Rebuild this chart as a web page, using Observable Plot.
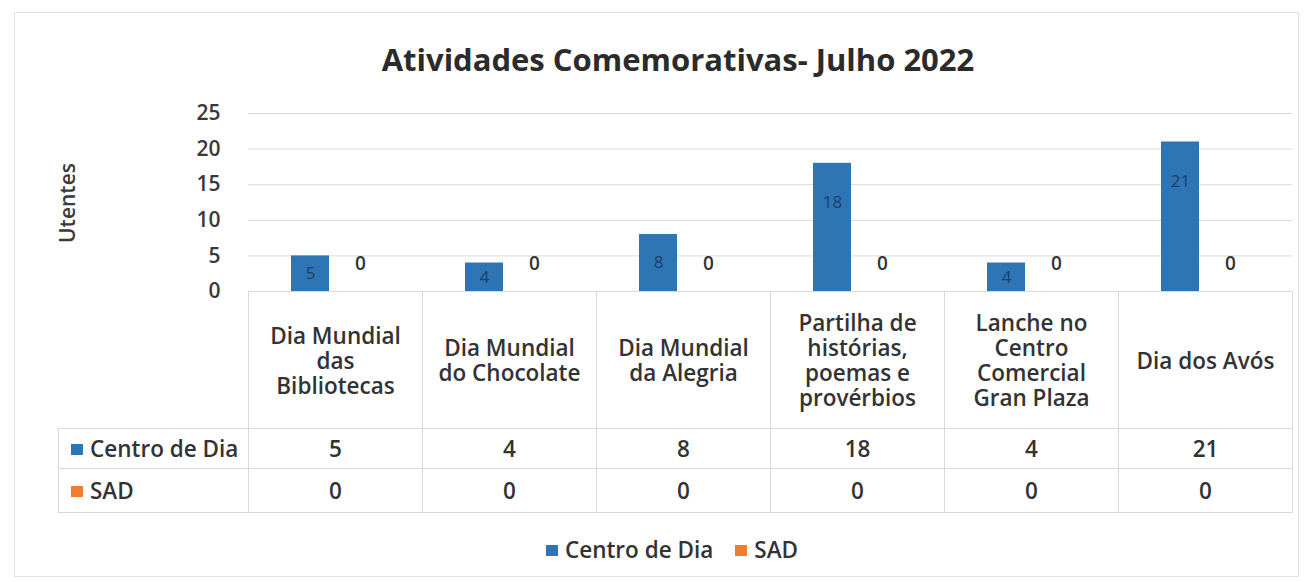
<!DOCTYPE html>
<html>
<head>
<meta charset="utf-8">
<script src="https://cdn.jsdelivr.net/npm/d3@7"></script>
<script src="https://cdn.jsdelivr.net/npm/@observablehq/plot@0.6"></script>
<style>
  html, body { margin: 0; padding: 0; background: #fff; }
  body { width: 1309px; height: 582px; position: relative; overflow: hidden; font-family: "Open Sans", Lato, sans-serif; color: #333; }
  #frame { position: absolute; left: 14px; top: 12px; width: 1285px; height: 565px; border: 1px solid #e3e3e3; box-sizing: border-box; }
  #title { position: absolute; left: 52px; width: 1252px; top: 38px; text-align: center; font-size: 31px; font-weight: 700; color: #2b2b2b; }
  #ylabel { position: absolute; left: 67px; top: 203px; transform: translate(-50%, -50%) rotate(-90deg); font-size: 21px; font-weight: 600; color: #3a3a3a; white-space: nowrap; }
  #chart { position: absolute; left: 0; top: 95px; }
  #table { position: absolute; left: 58px; top: 291px; border-collapse: collapse; table-layout: fixed; font-size: 22.5px; font-weight: 600; color: #333; }
  #table td { border: 1px solid #d9d9d9; text-align: center; padding: 0; }
  #table td.blank { border-top: none; border-left: none; }
  #table td.cat { height: 136px; white-space: pre-line; line-height: 25px; vertical-align: middle; }
  #table td.name { text-align: left; padding-left: 12px; white-space: nowrap; }
  #table tr.r1 td { height: 39px; }
  #table tr.r2 td { height: 43px; }
  .sw { display: inline-block; width: 12px; height: 11px; margin-right: 7px; vertical-align: 2px; }
  #legend { position: absolute; left: 52px; width: 1240px; top: 534px; text-align: center; font-size: 22.5px; font-weight: 600; color: #333; }
  #legend span.item { margin: 0 11px; }
</style>
</head>
<body>
<div id="frame"></div>
<div id="title"></div>
<div id="ylabel"></div>
<div id="chart"></div>
<table id="table"></table>
<div id="legend"></div>
<script>
const titleText = "Atividades Comemorativas- Julho 2022";
const yLabel = "Utentes";
const categories = [
  "Dia Mundial\ndas\nBibliotecas",
  "Dia Mundial\ndo Chocolate",
  "Dia Mundial\nda Alegria",
  "Partilha de\nhistórias,\npoemas e\nprovérbios",
  "Lanche no\nCentro\nComercial\nGran Plaza",
  "Dia dos Avós"
];
const series = ["Centro de Dia", "SAD"];
const centroDeDia = [5, 4, 8, 18, 4, 21];
const sad = [0, 0, 0, 0, 0, 0];
const yTicks = [0, 5, 10, 15, 20, 25];
const colors = ["#2E75B6", "#ED7D31"];

const values = [centroDeDia, sad];
const data = categories.flatMap((c, i) => series.map((s, j) => ({cat: c, series: s, value: values[j][i]})));

document.getElementById("title").textContent = titleText;
document.getElementById("ylabel").textContent = yLabel;

const chart = Plot.plot({
  width: 1309,
  height: 200,
  marginLeft: 248,
  marginRight: 17,
  marginTop: 18,
  marginBottom: 4,
  style: {fontFamily: "'Open Sans', Lato, sans-serif", fontSize: "20px", color: "#3a3a3a", background: "transparent", overflow: "visible"},
  fx: {domain: categories, padding: 0, axis: null, label: null},
  x: {domain: series, paddingInner: 0.24, paddingOuter: 0.86, axis: null, label: null},
  y: {domain: [0, 25], label: null},
  color: {domain: series, range: colors},
  marks: [
    Plot.gridY(yTicks, {stroke: "#d9d9d9", strokeOpacity: 1}),
    Plot.axisY(yTicks, {tickSize: 0, tickPadding: 28, fontWeight: 600, fontSize: 21, fill: "#3a3a3a", label: null}),
    Plot.barY(data, {fx: "cat", x: "series", y: "value", fill: "series"}),
    Plot.text(data.filter(d => d.series === series[0]), {fx: "cat", x: "series", y: d => Math.max(d.value / 2, d.value - 5.5), text: "value", fill: "#1e3f66", fontSize: 17}),
    Plot.text(data.filter(d => d.series === series[1]), {fx: "cat", x: "series", y: "value", dy: -28, text: "value", fill: "#333", fontSize: 19, fontWeight: 600})
  ]
});
document.getElementById("chart").appendChild(chart);

// data table
const table = document.getElementById("table");
const colgroup = document.createElement("colgroup");
[190, ...categories.map(() => 174)].forEach(w => {
  const col = document.createElement("col");
  col.style.width = w + "px";
  colgroup.appendChild(col);
});
table.appendChild(colgroup);
const head = document.createElement("tr");
const blank = document.createElement("td");
blank.className = "blank";
head.appendChild(blank);
categories.forEach(c => {
  const td = document.createElement("td");
  td.className = "cat";
  td.textContent = c;
  head.appendChild(td);
});
table.appendChild(head);
series.forEach((s, j) => {
  const tr = document.createElement("tr");
  tr.className = "r" + (j + 1);
  const name = document.createElement("td");
  name.className = "name";
  name.innerHTML = `<span class="sw" style="background:${colors[j]}"></span>`;
  name.appendChild(document.createTextNode(s));
  tr.appendChild(name);
  values[j].forEach(v => {
    const td = document.createElement("td");
    td.textContent = v;
    tr.appendChild(td);
  });
  table.appendChild(tr);
});

// legend
const legend = document.getElementById("legend");
series.forEach((s, j) => {
  const item = document.createElement("span");
  item.className = "item";
  item.innerHTML = `<span class="sw" style="background:${colors[j]}"></span>`;
  item.appendChild(document.createTextNode(s));
  legend.appendChild(item);
});
</script>
</body>
</html>
